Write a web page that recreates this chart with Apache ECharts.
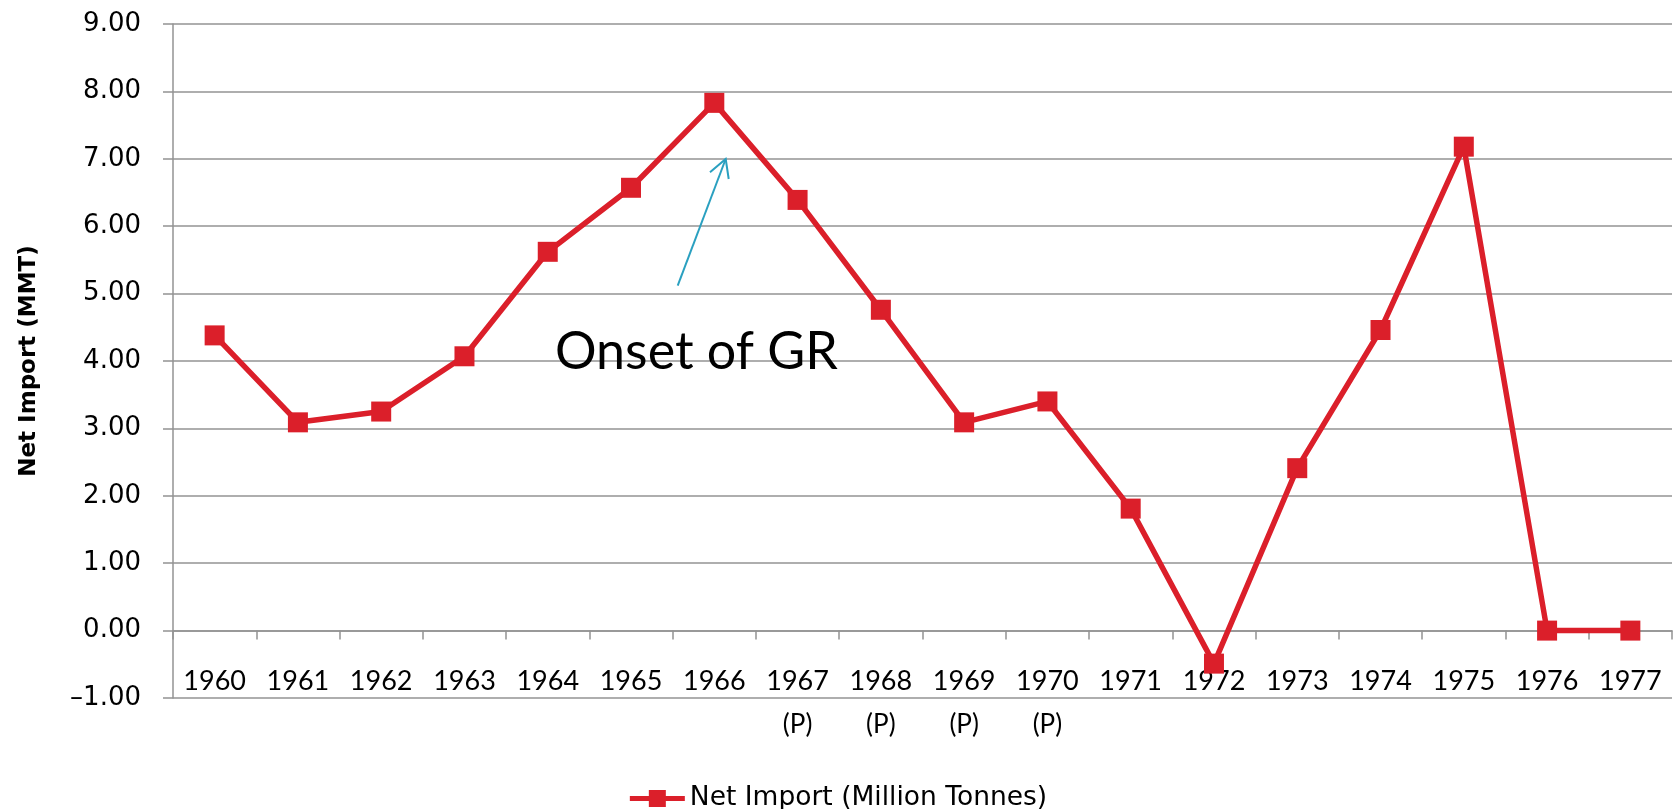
<!DOCTYPE html>
<html>
<head>
<meta charset="utf-8">
<title>Net Import</title>
<script src="https://cdn.jsdelivr.net/npm/echarts@6/dist/echarts.min.js"></script>
<style>
  html, body { margin: 0; padding: 0; background: #fff; }
  #chart { width: 1677px; height: 809px; }
</style>
</head>
<body>
<div id="chart"></div>
<script>
// years on the x axis, and which of them are provisional figures
const years = ['1960', '1961', '1962', '1963', '1964', '1965', '1966', '1967', '1968',
  '1969', '1970', '1971', '1972', '1973', '1974', '1975', '1976', '1977'];
const provisional = ['1967', '1968', '1969', '1970'];
// net import, million tonnes
const netImport = [4.38, 3.09, 3.25, 4.07, 5.62, 6.57, 7.83, 6.39, 4.76,
  3.09, 3.40, 1.81, -0.49, 2.41, 4.46, 7.18, 0.00, 0.00];
const yTicks = { min: -1, max: 9, step: 1 };

const red = '#db1f2a';
const gridGray = '#939393';

const chart = echarts.init(document.getElementById('chart'));
chart.setOption({
  animation: false,
  backgroundColor: '#fff',
  grid: {
    left: 173,
    right: 5,
    top: 24,
    bottom: 111,
    containLabel: false,
    outerBoundsMode: 'none',
  },
  legend: {
    data: ['Net Import (Million Tonnes)'],
    left: 'center',
    top: 780,
    itemWidth: 55,
    itemHeight: 17,
    itemGap: 5,
    icon: 'path://M0,6 H19 V0 H36 V6 H55 V11 H36 V17 H19 V11 H0 Z',
    textStyle: {
      fontFamily: 'DejaVu Sans',
      fontSize: 26.5,
      color: '#000',
    },
  },
  xAxis: [{
    // axis line + ticks sitting on zero
    type: 'category',
    data: years,
    boundaryGap: true,
    axisLine: {
      onZero: true,
      lineStyle: { color: gridGray, width: 1.5 },
    },
    axisTick: {
      show: true,
      length: 9,
      lineStyle: { color: gridGray, width: 1.5 },
    },
    axisLabel: { show: false },
    splitLine: { show: false },
  }, {
    // labels only, placed between 0 and -1 like the original
    type: 'category',
    data: years,
    position: 'bottom',
    offset: -38,
    boundaryGap: true,
    axisLine: { show: false, onZero: false },
    axisTick: { show: false },
    axisLabel: {
      interval: 0,
      margin: 0,
      fontFamily: 'Lato',
      fontSize: 27,
      lineHeight: 43,
      color: '#000',
      formatter: function (value) {
        if (provisional.indexOf(value) >= 0) {
          return value + '\n{p|(P)}';
        }
        return value;
      },
      rich: {
        p: { fontFamily: 'Lato', fontSize: 26, lineHeight: 43, color: '#000' },
      },
    },
    splitLine: { show: false },
  }],
  yAxis: {
    type: 'value',
    min: yTicks.min,
    max: yTicks.max,
    interval: yTicks.step,
    name: 'Net Import (MMT)',
    nameLocation: 'middle',
    nameRotate: 90,
    nameGap: 132,
    nameTextStyle: {
      fontFamily: 'DejaVu Sans',
      fontWeight: 'bold',
      fontSize: 23,
      color: '#000',
    },
    axisLine: {
      show: true,
      lineStyle: { color: gridGray, width: 1.5 },
    },
    axisTick: {
      show: true,
      length: 10,
      lineStyle: { color: gridGray, width: 1.5 },
    },
    axisLabel: {
      margin: 32,
      fontFamily: 'DejaVu Sans',
      fontSize: 26,
      color: '#000',
      formatter: function (v) {
        return v.toFixed(2).replace('-', '\u2013');
      },
    },
    splitLine: {
      show: true,
      lineStyle: { color: gridGray, width: 1.5 },
    },
  },
  series: [{
    name: 'Net Import (Million Tonnes)',
    type: 'line',
    xAxisIndex: 0,
    data: netImport,
    symbol: 'rect',
    symbolSize: 20,
    showAllSymbol: true,
    itemStyle: { color: red },
    lineStyle: { color: red, width: 5.5 },
    z: 5,
  }],
  graphic: [
    // annotation arrow pointing at 1966 peak
    {
      type: 'line',
      shape: { x1: 677.7, y1: 285.7, x2: 725.7, y2: 159 },
      style: { stroke: '#2aa0c0', lineWidth: 2 },
      z: 10,
    },
    {
      type: 'polyline',
      shape: { points: [[710, 172.3], [725.7, 159], [728.7, 179]] },
      style: { stroke: '#2aa0c0', lineWidth: 2, fill: null },
      z: 10,
    },
    {
      type: 'text',
      x: 555,
      y: 352,
      style: {
        text: 'Onset of GR',
        fontFamily: 'Lato',
        fontSize: 52,
        fill: '#000',
        align: 'left',
        verticalAlign: 'middle',
      },
      z: 10,
    },
  ],
});
</script>
</body>
</html>
